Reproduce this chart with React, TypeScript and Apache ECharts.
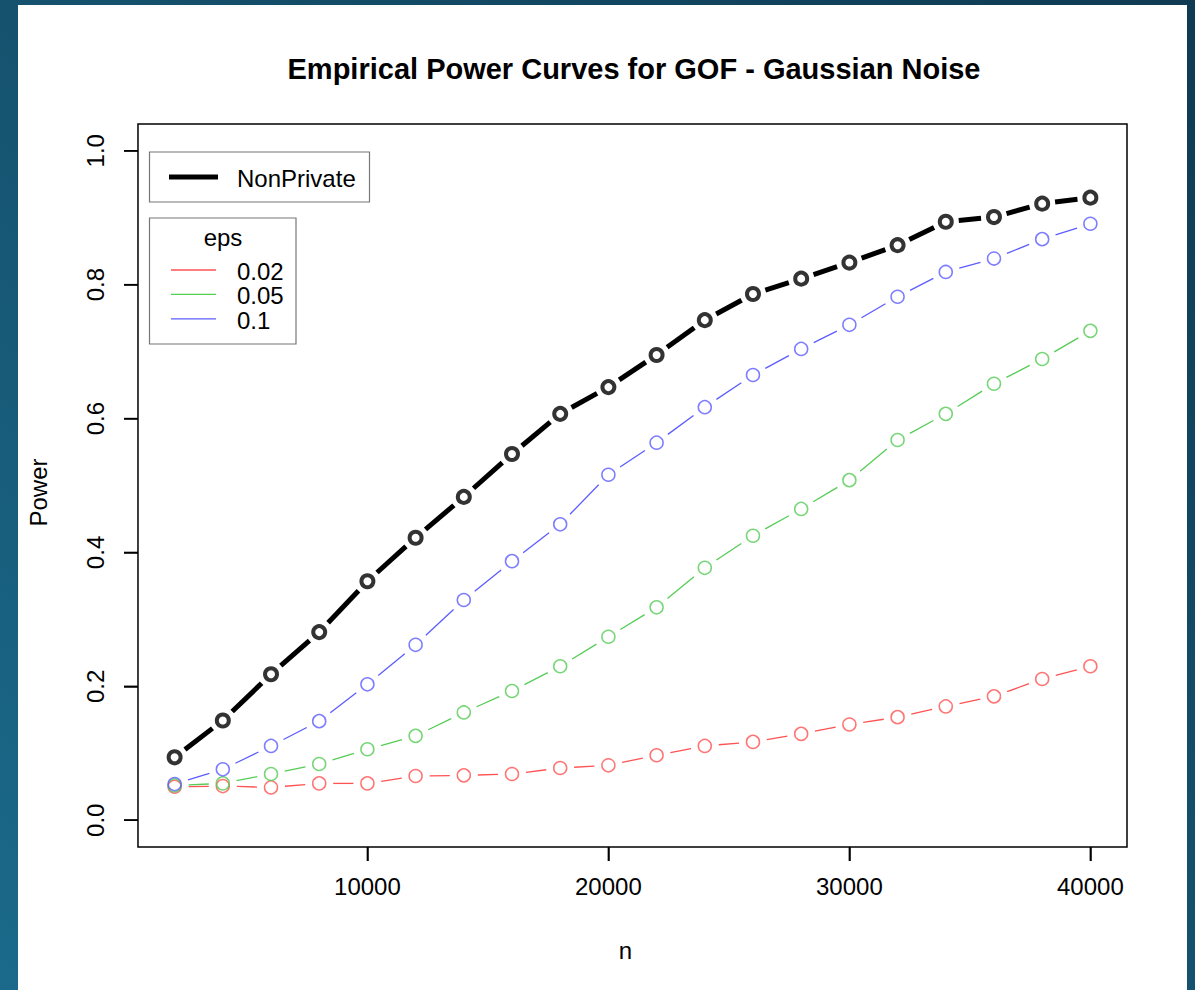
import React, { useEffect, useRef } from "react";
import * as echarts from "echarts";

const nValues = [2000, 4000, 6000, 8000, 10000, 12000, 14000, 16000, 18000, 20000, 22000, 24000, 26000, 28000, 30000, 32000, 34000, 36000, 38000, 40000];
const nonPrivate = [0.094, 0.149, 0.218, 0.281, 0.357, 0.422, 0.483, 0.547, 0.607, 0.647, 0.695, 0.747, 0.786, 0.809, 0.833, 0.859, 0.894, 0.901, 0.921, 0.930];
const eps002 = [0.050, 0.051, 0.049, 0.055, 0.055, 0.066, 0.067, 0.069, 0.078, 0.082, 0.097, 0.111, 0.117, 0.129, 0.143, 0.154, 0.170, 0.185, 0.211, 0.230];
const eps005 = [0.052, 0.055, 0.069, 0.084, 0.106, 0.126, 0.161, 0.193, 0.230, 0.274, 0.318, 0.377, 0.425, 0.465, 0.508, 0.568, 0.607, 0.652, 0.689, 0.731];
const eps01 = [0.054, 0.076, 0.111, 0.148, 0.203, 0.262, 0.329, 0.387, 0.442, 0.516, 0.564, 0.617, 0.665, 0.704, 0.740, 0.782, 0.819, 0.839, 0.868, 0.891];
const xTicks = [10000, 20000, 30000, 40000];
const yTicks = [0, 0.2, 0.4, 0.6, 0.8, 1.0];
const epsLabels = ["0.02", "0.05", "0.1"];

// plotting region (the R box)
const X_MIN = 480;
const X_MAX = 41520;
const Y_MIN = -0.04;
const Y_MAX = 1.04;

const FONT = "'Liberation Sans', Arial, Helvetica, sans-serif";
const RED = "#ff5252";
const GREEN = "#55cc55";
const BLUE = "#5c5cff";

// the white chart panel sits at (OX, OY) inside the page
const OX = 18;
const OY = 5;
const TICK_LEN = 14;
// box in page pixels
const BOX_L = 137;
const BOX_T = 124;
const BOX_W = 990;
const BOX_H = 723;
// the grid is widened by the tick length on the left and bottom so the outward ticks sit inside it
const X_AXIS_MIN = X_MIN - TICK_LEN * (X_MAX - X_MIN) / BOX_W;
const Y_AXIS_MIN = Y_MIN - TICK_LEN * (Y_MAX - Y_MIN) / BOX_H;

function segSeries(name: string, ys: number[], color: string, width: number, gap: number) {
  const data: number[][] = [];
  for (let i = 0; i < ys.length - 1; i++) {
    data.push([nValues[i], ys[i], nValues[i + 1], ys[i + 1]]);
  }
  return {
    type: "custom",
    name,
    data,
    encode: { x: [0, 2], y: [1, 3] },
    silent: true,
    z: 3,
    renderItem: (_params: any, api: any) => {
      const p0 = api.coord([api.value(0), api.value(1)]);
      const p1 = api.coord([api.value(2), api.value(3)]);
      const dx = p1[0] - p0[0];
      const dy = p1[1] - p0[1];
      const len = Math.hypot(dx, dy);
      if (len <= 2 * gap) return null;
      const ux = dx / len;
      const uy = dy / len;
      return {
        type: "line",
        shape: {
          x1: p0[0] + ux * gap,
          y1: p0[1] + uy * gap,
          x2: p1[0] - ux * gap,
          y2: p1[1] - uy * gap,
        },
        style: { stroke: color, lineWidth: width, lineCap: "butt" },
      };
    },
  };
}

function pointSeries(name: string, ys: number[], color: string, size: number, bw: number) {
  return {
    type: "scatter",
    name,
    data: nValues.map((n, i) => [n, ys[i]]),
    symbol: "circle",
    symbolSize: size,
    itemStyle: { color: "rgba(0,0,0,0)", borderColor: color, borderWidth: bw },
    silent: true,
    z: 4,
  };
}

export default function App() {
  const ref = useRef<HTMLDivElement>(null);
  useEffect(() => {
    if (!ref.current) return;
    const chart = echarts.init(ref.current, undefined, { renderer: "svg" });
    const legendLines = [RED, GREEN, BLUE].map((col, i) => ({
      type: "line",
      z: 11,
      shape: { x1: 171 - OX, y1: 270 - OY + i * 24.4, x2: 216 - OX, y2: 270 - OY + i * 24.4 },
      style: { stroke: col, lineWidth: 1.3 },
    }));
    const baseGraphic: any[] = [
      { type: "rect", z: 10, shape: { x: 149.5 - OX, y: 152 - OY, width: 220, height: 50 }, style: { fill: "#fff", stroke: "#777", lineWidth: 1.2 } },
      { type: "line", z: 11, shape: { x1: 169 - OX, y1: 177 - OY, x2: 218 - OX, y2: 177 - OY }, style: { stroke: "#000", lineWidth: 5 } },
      { type: "text", z: 11, x: 237 - OX, y: 178 - OY, style: { text: "NonPrivate", font: `24px ${FONT}`, fill: "#000", textVerticalAlign: "middle" } },
      { type: "rect", z: 10, shape: { x: 149.5 - OX, y: 218 - OY, width: 146.5, height: 126 }, style: { fill: "#fff", stroke: "#777", lineWidth: 1.2 } },
      { type: "text", z: 11, x: 223 - OX, y: 237 - OY, style: { text: "eps", font: `24px ${FONT}`, fill: "#000", textAlign: "center", textVerticalAlign: "middle" } },
      ...legendLines,
      {
        type: "text", z: 11, x: 237 - OX, y: 259 - OY,
        style: { text: epsLabels.join("\n"), font: `24px ${FONT}`, lineHeight: 24.4, fill: "#000", textVerticalAlign: "top" },
      },
    ];
    chart.setOption({
      animation: false,
      backgroundColor: "#ffffff",
      title: {
        text: "Empirical Power Curves for GOF - Gaussian Noise",
        left: 629 - OX,
        top: 49 - OY,
        textAlign: "center",
        textStyle: { fontFamily: FONT, fontSize: 29, fontWeight: "bold", color: "#000" },
      },
      graphic: baseGraphic,
      grid: {
        left: BOX_L - TICK_LEN - OX,
        top: BOX_T - OY,
        width: BOX_W + TICK_LEN,
        height: BOX_H + TICK_LEN,
        show: false,
      },
      xAxis: {
        type: "value",
        min: X_AXIS_MIN,
        max: X_MAX,
        name: "n",
        nameLocation: "middle",
        nameGap: 77,
        nameTextStyle: { fontFamily: FONT, fontSize: 24, color: "#000" },
        axisLine: { show: false, onZero: false },
        splitLine: { show: false },
        axisTick: { show: true, inside: true, length: TICK_LEN, customValues: xTicks, lineStyle: { color: "#000", width: 1.5 } },
        axisLabel: {
          customValues: xTicks,
          margin: 13,
          fontFamily: FONT, fontSize: 24, color: "#000",
          formatter: (v: number) => String(v),
        },
      },
      yAxis: {
        type: "value",
        min: Y_AXIS_MIN,
        max: Y_MAX,
        name: "Power",
        nameLocation: "middle",
        nameGap: 74,
        nameTextStyle: { fontFamily: FONT, fontSize: 24, color: "#000" },
        axisLine: { show: false, onZero: false },
        splitLine: { show: false },
        axisTick: { show: true, inside: true, length: TICK_LEN, customValues: yTicks, lineStyle: { color: "#000", width: 1.5 } },
        axisLabel: {
          customValues: yTicks,
          rotate: 90,
          margin: 17,
          fontFamily: FONT, fontSize: 24, color: "#000",
          formatter: (v: number) => v.toFixed(1),
        },
      },
      series: [
        segSeries("NonPrivate", nonPrivate, "#000", 5, 13),
        pointSeries("NonPrivate", nonPrivate, "#000", 12, 4),
        segSeries("0.02", eps002, RED, 1.3, 14),
        pointSeries("0.02", eps002, RED, 13, 1.5),
        segSeries("0.05", eps005, GREEN, 1.3, 14),
        pointSeries("0.05", eps005, GREEN, 13, 1.5),
        segSeries("0.1", eps01, BLUE, 1.3, 14),
        pointSeries("0.1", eps01, BLUE, 13, 1.5),
      ],
    });
    // box and outward ticks (R style), placed through the chart's own scales
    const extra: any[] = [];
    const tl = chart.convertToPixel({ gridIndex: 0 }, [X_MIN, Y_MAX]) as number[];
    const br = chart.convertToPixel({ gridIndex: 0 }, [X_MAX, Y_MIN]) as number[];
    if (tl && br) {
      extra.push({
        type: "rect", z: 12,
        shape: { x: tl[0], y: tl[1], width: br[0] - tl[0], height: br[1] - tl[1] },
        style: { fill: "none", stroke: "#000", lineWidth: 1.5 },
      });
      xTicks.forEach((v) => {
        const p = chart.convertToPixel({ gridIndex: 0 }, [v, Y_MIN]) as number[];
        extra.push({ type: "rect", z: 12, shape: { x: p[0] - 0.75, y: p[1], width: 1.5, height: TICK_LEN }, style: { fill: "#000" } });
      });
      yTicks.forEach((v) => {
        const p = chart.convertToPixel({ gridIndex: 0 }, [X_MIN, v]) as number[];
        extra.push({ type: "rect", z: 12, shape: { x: p[0] - TICK_LEN, y: p[1] - 0.75, width: TICK_LEN, height: 1.5 }, style: { fill: "#000" } });
      });
      chart.setOption({ graphic: [...baseGraphic, ...extra] });
    }
    return () => chart.dispose();
  }, []);
  return (
    <div
      style={{
        position: "absolute",
        left: 0,
        top: 0,
        width: 1195,
        height: 990,
        overflow: "hidden",
        background: "linear-gradient(to bottom left, #0f3a52, #1b6a8b)",
      }}
    >
      <div ref={ref} style={{ position: "absolute", left: OX, top: OY, width: 1169, height: 985 }} />
    </div>
  );
}
